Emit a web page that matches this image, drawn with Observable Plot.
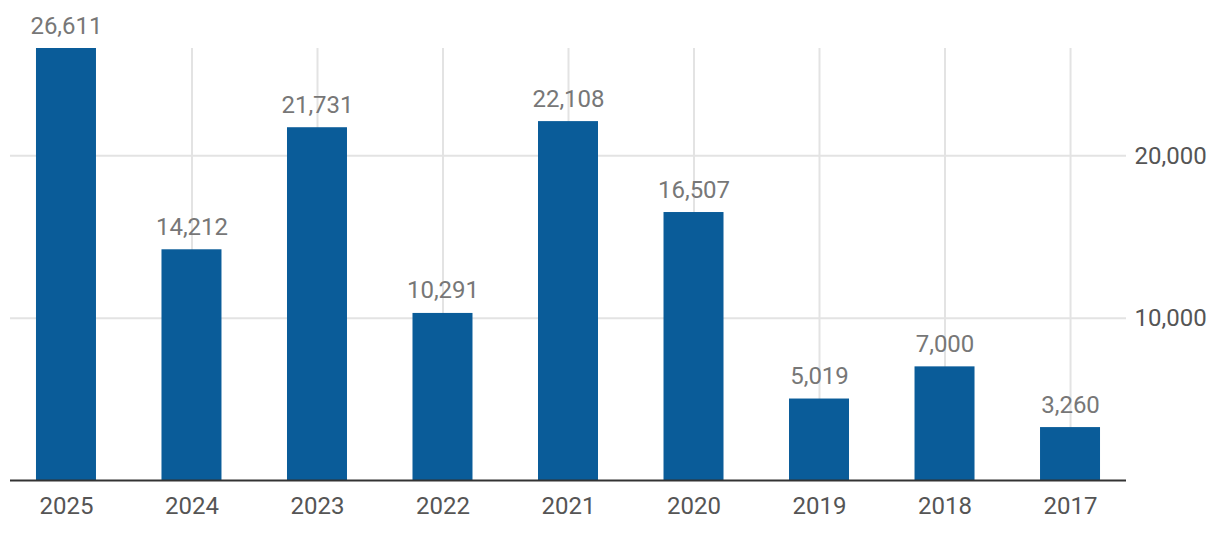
<!DOCTYPE html>
<html>
<head>
<meta charset="utf-8">
<script src="https://cdn.jsdelivr.net/npm/d3@7"></script>
<script src="https://cdn.jsdelivr.net/npm/@observablehq/plot@0.6"></script>
<style>
  html, body { margin: 0; padding: 0; background: #fff; }
  #chart { width: 1220px; height: 536px; }
  svg { font-family: Roboto, sans-serif; }
</style>
</head>
<body>
<div id="chart"></div>
<script>
const years = ["2025", "2024", "2023", "2022", "2021", "2020", "2019", "2018", "2017"];
const values = [26611, 14212, 21731, 10291, 22108, 16507, 5019, 7000, 3260];
const yTicks = [10000, 20000];

const data = years.map((year, i) => ({ year, value: values[i] }));
const fmt = d3.format(",");

const chart = Plot.plot({
  width: 1220,
  height: 536,
  marginTop: 48,
  marginBottom: 56,
  marginLeft: 10,
  marginRight: 94,
  style: { fontFamily: "Roboto, sans-serif", background: "#fff" },
  x: { domain: years, paddingInner: 0.522, paddingOuter: 0.207, round: false, label: null },
  y: { domain: [0, d3.max(values)], label: null },
  marks: [
    Plot.ruleY(yTicks, { stroke: "#e3e3e3", strokeWidth: 2 }),
    Plot.ruleX(years, { x: d => d, y1: 0, y2: d3.max(values), stroke: "#e3e3e3", strokeWidth: 2 }),
    Plot.barY(data, { x: "year", y: "value", fill: "#0a5c99" }),
    Plot.ruleY([0], { stroke: "#333", strokeWidth: 2 }),
    Plot.text(data, {
      x: "year", y: "value", text: d => fmt(d.value),
      lineAnchor: "bottom", dy: -15, fontSize: 24, fill: "#777"
    }),
    Plot.axisX({ tickSize: 0, tickPadding: 16, fontSize: 24, color: "#555", label: null }),
    Plot.axisY({ anchor: "right", ticks: yTicks, tickFormat: fmt, tickSize: 0, tickPadding: 8, fontSize: 24, color: "#555", label: null })
  ]
});
document.getElementById("chart").appendChild(chart);
</script>
</body>
</html>
